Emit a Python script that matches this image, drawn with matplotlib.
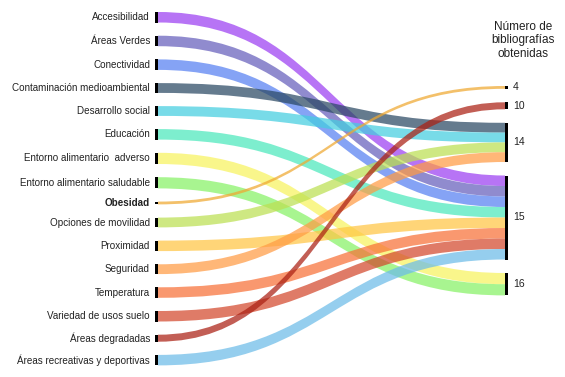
import numpy as np
import matplotlib
matplotlib.use("Agg")
import matplotlib.pyplot as plt
from matplotlib.path import Path
from matplotlib.patches import PathPatch, Rectangle

plt.rcParams["font.family"] = ["Liberation Sans", "DejaVu Sans"]

# ─── DONNÉES ──────────────────────────────────────────────────────────────────
categorias = [
    "Accesibilidad", "Áreas Verdes", "Conectividad", "Contaminación medioambiental",
    "Desarrollo social", "Educación", "Entorno alimentario  adverso",
    "Entorno alimentario saludable", "Obesidad", "Opciones de movilidad",
    "Proximidad", "Seguridad", "Temperatura", "Variedad de usos suelo",
    "Áreas degradadas", "Áreas recreativas y deportivas",
]
bibliografias = [15, 15, 15, 14, 14, 15, 16, 16, 4, 14, 15, 14, 15, 15, 10, 15]
colores = [
    "#9b3ef2", "#665fbc", "#5680f2", "#2a4863", "#44cee0", "#4be8bc",
    "#f8f35f", "#87f266", "#efa830", "#bce052", "#ffc644", "#ff9b44",
    "#f87037", "#d3482d", "#ab2013", "#6cbce8",
]
titulo_derecha = "Número de\nbibliografías\nobtenidas"

# ─── MISE EN PAGE (pixels) ────────────────────────────────────────────────────
W, H = 565, 377
escala = 0.7     # px par bibliographie
hueco = 13.2     # espace entre noeuds
x_izq, x_der = 158, 505
y_izq0, y_der0 = 12.0, 86.0

fig = plt.figure(figsize=(W / 100, H / 100), dpi=100)
ax = fig.add_axes([0, 0, 1, 1])
ax.set_xlim(0, W)
ax.set_ylim(H, 0)
ax.axis("off")

alturas = [v * escala for v in bibliografias]

# noeuds gauche
top_izq = []
y = y_izq0
for h in alturas:
    top_izq.append(y)
    y += h + hueco

# noeuds droite = valeurs distinctes
grupos = sorted(set(bibliografias))
top_der = {}
y = y_der0
for g in grupos:
    top_der[g] = y
    n = bibliografias.count(g)
    y += n * g * escala + 13.5

# position de chaque flux à droite (ordre gauche)
offset = {g: top_der[g] for g in grupos}
top_flujo_der = []
for v, h in zip(bibliografias, alturas):
    top_flujo_der.append(offset[v])
    offset[v] += h

# ─── FLUX ─────────────────────────────────────────────────────────────────────
xm = (x_izq + x_der) / 2
for i, (h, c) in enumerate(zip(alturas, colores)):
    y0, y1 = top_izq[i], top_flujo_der[i]
    verts = [
        (x_izq, y0), (xm, y0), (xm, y1), (x_der, y1),
        (x_der, y1 + h), (xm, y1 + h), (xm, y0 + h), (x_izq, y0 + h),
        (x_izq, y0),
    ]
    codes = [Path.MOVETO, Path.CURVE4, Path.CURVE4, Path.CURVE4,
             Path.LINETO, Path.CURVE4, Path.CURVE4, Path.CURVE4,
             Path.CLOSEPOLY]
    ax.add_patch(PathPatch(Path(verts, codes), facecolor=c, edgecolor="none",
                           alpha=0.72))

# ─── BARRES ET ÉTIQUETTES ─────────────────────────────────────────────────────
for i, (lab, h) in enumerate(zip(categorias, alturas)):
    ax.add_patch(Rectangle((x_izq - 3, top_izq[i]), 3, h, color="black", lw=0))
    ax.text(x_izq - 8, top_izq[i] + h / 2, lab, ha="right", va="center",
            fontsize=7.1, fontweight="bold" if lab == "Obesidad" else "normal",
            color="#222222")

for g in grupos:
    h = bibliografias.count(g) * g * escala
    ax.add_patch(Rectangle((x_der, top_der[g]), 3, h, color="black", lw=0))
    ax.text(x_der + 8, top_der[g] + h / 2, str(g), ha="left", va="center",
            fontsize=7.5, color="#222222")

ax.text(523, 21, titulo_derecha, ha="center", va="top", fontsize=8.5,
        color="#222222", linespacing=1.15)

fig.savefig("out.png", dpi=100)
